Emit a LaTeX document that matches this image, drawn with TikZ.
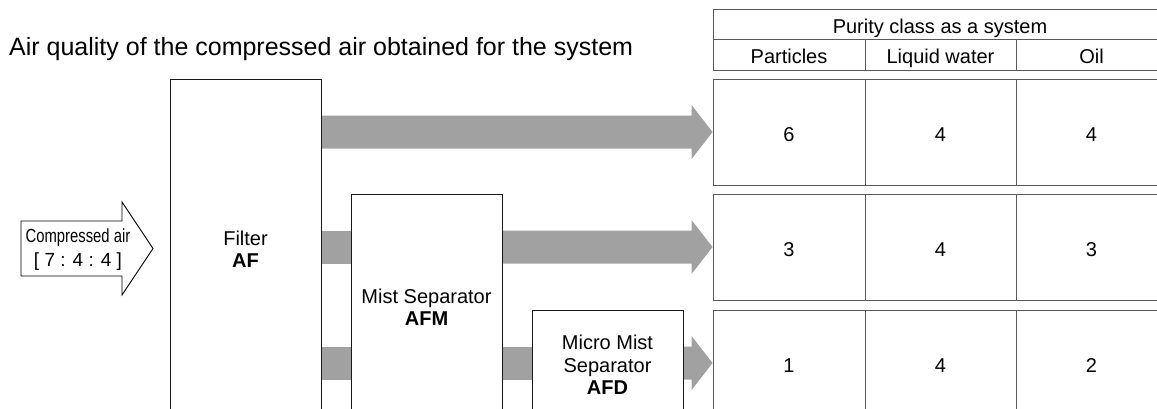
\documentclass[tikz,border=0pt]{standalone}
\usepackage{fontspec}
\setmainfont{Liberation Sans}
\usetikzlibrary{calc}
\definecolor{bandgray}{RGB}{160,161,160}
\tikzset{
  box/.style={draw=black!90, line width=0.9pt, fill=white, inner sep=0pt},
  cell/.style={draw=black!65, line width=0.9pt, fill=white, inner sep=0pt, font=\fontsize{20}{23}\selectfont, text height=18.4pt, text depth=0pt},
  band/.style={fill=bandgray},
  lbl/.style={font=\fontsize{20}{22.5}\selectfont, align=center, inner sep=0pt},
}
\newcommand\bandarrowto[2]{%
  \fill[band] ($(#1.east |- #2.west)+(0,-16.5)$) -- ($(#2.west)+(-21,-16.5)$) -- ($(#2.west)+(-21,-27)$) -- (#2.west) -- ($(#2.west)+(-21,27)$) -- ($(#2.west)+(-21,16.5)$) -- ($(#1.east |- #2.west)+(0,16.5)$) -- cycle;}
\newcommand\bandrect[3]{%
  \fill[band] ($(#1.east |- #3)+(0,-16.5)$) rectangle ($(#2.west |- #3)+(0,16.5)$);}
\begin{document}
\begin{tikzpicture}[x=1pt,y=-1pt]
\useasboundingbox (0,0) rectangle (1157,408);

% title
\node[anchor=base west, inner sep=0pt, font=\fontsize{25}{29}\selectfont] (title) at (9,55) {Air quality of the compressed air obtained for the system};

% table header
\node[cell, minimum width=454pt, minimum height=30pt] (hdr) at (940,24) {Purity class as a system};
\node[cell, minimum width=152pt, minimum height=31pt] (hA) at (789,54.5) {Particles};
\node[cell, minimum width=151pt, minimum height=31pt] (hB) at (940.5,54.5) {Liquid water};
\node[cell, minimum width=151pt, minimum height=31pt] (hC) at (1091.5,54.5) {Oil};

% rows
\foreach \r/\y/\a/\b/\c in {1/132/6/4/4, 2/247/3/4/3, 3/363/1/4/2}{
  \node[cell, minimum width=152pt, minimum height=106pt] (r\r a) at (789,\y) {\a};
  \node[cell, minimum width=151pt, minimum height=106pt] (r\r b) at (940.5,\y) {\b};
  \node[cell, minimum width=151pt, minimum height=106pt] (r\r c) at (1091.5,\y) {\c};
}

% boxes
\node[box, minimum width=151pt, minimum height=333pt] (filter) at (245.5,245.5) {};
\node[box, minimum width=151pt, minimum height=218pt] (mist) at (426.5,303) {};
\node[box, minimum width=151pt, minimum height=102pt] (micro) at (607.5,361) {};

% bands
\bandarrowto{filter}{r1a}
\bandrect{filter}{mist}{r2a.west}
\bandarrowto{mist}{r2a}
\bandrect{filter}{mist}{r3a.west}
\bandrect{mist}{micro}{r3a.west}
\bandarrowto{micro}{r3a}

% redraw boxes on top of bands
\node[box, minimum width=151pt, minimum height=333pt] at (filter) {};
\node[box, minimum width=151pt, minimum height=218pt] at (mist) {};
\node[box, minimum width=151pt, minimum height=102pt] at (micro) {};

\node[lbl] (filtert) at (245.5,249) {Filter\\\textbf{AF}};
\node[lbl] (mistt) at (426.5,307) {Mist Separator\\\textbf{AFM}};
\node[lbl] (microt) at (607.5,365) {Micro Mist\\Separator\\\textbf{AFD}};

% compressed air input arrow
\coordinate (tip) at (153,248.5);
\draw[line width=0.9pt, fill=white, line join=miter] (21,221) -- (122,221) -- (122,202) -- (tip) -- (122,295) -- (122,276) -- (21,276) -- cycle;
\node[inner sep=0pt, align=center, font=\fontsize{19}{24}\selectfont] (inp) at (78,250) {\scalebox{0.78}[1]{Compressed air}\\{[ 7 : 4 : 4 ]}};
\end{tikzpicture}
\end{document}
